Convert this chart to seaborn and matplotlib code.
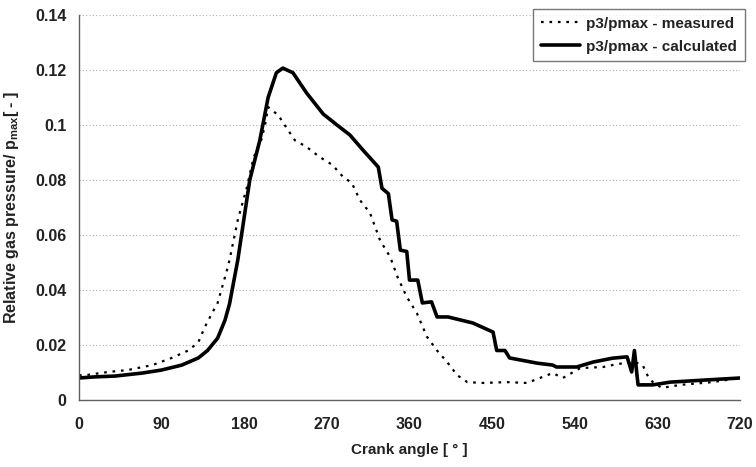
import matplotlib
matplotlib.use("Agg")
import matplotlib.pyplot as plt
import seaborn as sns
import pandas as pd
from matplotlib.ticker import FuncFormatter, MultipleLocator

# ---- data ----
calc_angle = [0, 17, 39, 69, 90, 112, 130, 140, 151, 159, 164, 173, 186, 197, 206, 215, 222,
              233, 248, 266, 281, 295, 309, 326, 330, 337, 341, 346, 350, 357, 360, 369, 374,
              384, 390, 402, 429, 451, 455, 464, 469, 499, 516, 520, 542, 560, 581, 597, 602,
              605, 608, 609, 625, 644, 684, 720]
calc_val = [0.0080, 0.0084, 0.0087, 0.0098, 0.0109, 0.0127, 0.0153, 0.0180, 0.0225, 0.0290,
            0.0350, 0.0510, 0.0800, 0.0945, 0.1100, 0.1190, 0.1207, 0.1190, 0.1116, 0.1040,
            0.1000, 0.0964, 0.0910, 0.0847, 0.0770, 0.0750, 0.0655, 0.0650, 0.0545, 0.0540,
            0.0436, 0.0436, 0.0353, 0.0357, 0.0302, 0.0302, 0.0280, 0.0247, 0.0180, 0.0180,
            0.0153, 0.0134, 0.0127, 0.0120, 0.0120, 0.0138, 0.0152, 0.0157, 0.0102, 0.0180,
            0.0084, 0.0055, 0.0055, 0.0065, 0.0073, 0.0080]

meas_angle = [0, 6.5, 32, 53, 80, 101, 119, 130, 137, 145, 151, 161, 164, 173, 183, 190, 199,
              203, 206, 217, 224, 235, 248, 262, 276, 288, 297, 306, 317, 328, 339, 347, 357,
              368, 379, 390, 401, 412, 423, 440, 466, 488, 502, 516, 527, 546, 571, 581, 593,
              605, 614, 620, 625, 635, 655, 690, 720]
meas_val = [0.0090, 0.0090, 0.0102, 0.0109, 0.0127, 0.0153, 0.0180, 0.0210, 0.0265, 0.0316,
            0.0353, 0.0470, 0.0510, 0.0655, 0.0775, 0.0880, 0.0950, 0.1007, 0.1065, 0.1036,
            0.1000, 0.0945, 0.0920, 0.0884, 0.0855, 0.0810, 0.0790, 0.0727, 0.0680, 0.0580,
            0.0520, 0.0447, 0.0375, 0.0316, 0.0230, 0.0180, 0.0138, 0.0090, 0.0065, 0.0062,
            0.0065, 0.0062, 0.0080, 0.0098, 0.0080, 0.0116, 0.0120, 0.0127, 0.0134, 0.0138,
            0.0127, 0.0084, 0.0065, 0.0044, 0.0055, 0.0065, 0.0080]

x_ticks = [0, 90, 180, 270, 360, 450, 540, 630, 720]
label_meas = "p3/pmax - measured"
label_calc = "p3/pmax - calculated"

df_meas = pd.DataFrame({"angle": meas_angle, "value": meas_val})
df_calc = pd.DataFrame({"angle": calc_angle, "value": calc_val})

sns.set_theme(style="white")
plt.rcParams['font.family'] = ['Liberation Sans', 'DejaVu Sans']
plt.rcParams['mathtext.fontset'] = 'custom'
plt.rcParams['mathtext.rm'] = 'Liberation Sans:bold'
plt.rcParams['mathtext.bf'] = 'Liberation Sans:bold'

fig = plt.figure(figsize=(7.56, 4.67), dpi=100)
ax = fig.add_axes([79 / 756, 1 - 400 / 467, 661 / 756, 385 / 467])

sns.lineplot(data=df_meas, x="angle", y="value", ax=ax, color="black", linewidth=1.6,
             dashes=False, label=label_meas, estimator=None, sort=False)
sns.lineplot(data=df_calc, x="angle", y="value", ax=ax, color="black", linewidth=2.6,
             label=label_calc, estimator=None, sort=False)
ax.lines[0].set_dashes((1.2, 2.6))

ax.set_xlim(0, 720)
ax.set_ylim(0, 0.14)
ax.set_xticks(x_ticks)
ax.yaxis.set_major_locator(MultipleLocator(0.02))
ax.yaxis.set_major_formatter(FuncFormatter(lambda v, p: "%g" % round(v, 4)))

for yv in [0.02, 0.04, 0.06, 0.08, 0.10, 0.12, 0.14]:
    ax.axhline(yv, color="#b0b0b0", linestyle=(0, (1, 2)), linewidth=0.8, zorder=0)

for s in ["top", "right"]:
    ax.spines[s].set_visible(False)
for s in ["left", "bottom"]:
    ax.spines[s].set_color("#606060")
    ax.spines[s].set_linewidth(1.0)

ax.tick_params(axis="both", which="major", direction="out", length=5, width=1.0,
               color="#606060", labelsize=11.5, pad=4)
ax.tick_params(axis="x", pad=6, length=6)
for lab in ax.get_xticklabels() + ax.get_yticklabels():
    lab.set_fontweight("bold")
    lab.set_color("#222222")

ax.set_xlabel("Crank angle [ ° ]", fontsize=11, fontweight="bold", color="#222222", labelpad=8)
ax.set_ylabel(r"Relative gas pressure/ $\mathbf{p}_{\mathrm{max}}$[ - ]", fontsize=11.5,
              fontweight="bold", color="#222222", labelpad=10)

leg = ax.legend(loc="upper right", bbox_to_anchor=(745 / 756, 1 - 9 / 467),
                bbox_transform=fig.transFigure, frameon=True, fancybox=False,
                fontsize=11, handlelength=2.6, borderpad=0.5, labelspacing=0.6,
                handletextpad=0.4, borderaxespad=0)
leg.get_frame().set_edgecolor("#555555")
leg.get_frame().set_linewidth(1.0)
for t in leg.get_texts():
    t.set_fontweight("bold")
    t.set_color("#222222")

fig.savefig("out.png", dpi=100)
